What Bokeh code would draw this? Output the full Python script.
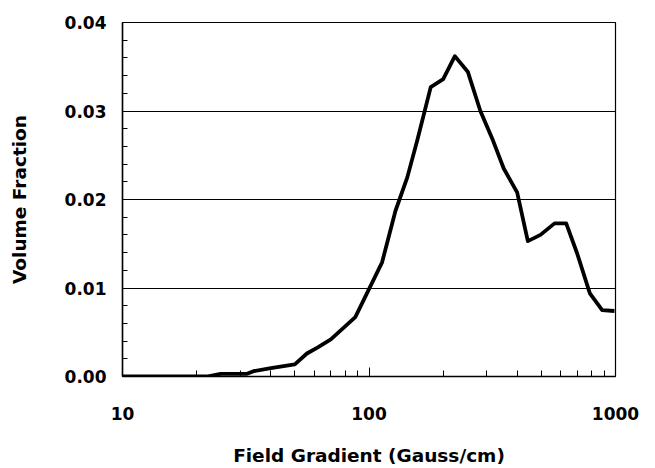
from bokeh.plotting import figure
from bokeh.models import FixedTicker, PrintfTickFormatter, CustomJSTickFormatter, Range1d
from bokeh.embed import file_html
from bokeh.resources import INLINE

# Data
gradient = [10, 22, 25, 32, 34, 40, 50, 56, 62, 70, 88, 113, 128, 143, 157, 178,
            200, 223, 252, 283, 316, 352, 399, 441, 496, 566, 631, 699, 787, 883, 990]
volume = [0.0, 0.0, 0.0003, 0.0003, 0.0006, 0.00094, 0.00136, 0.0026, 0.0033, 0.0042,
          0.0067, 0.0129, 0.0187, 0.0225, 0.0267, 0.0327, 0.0336, 0.0362, 0.0344,
          0.0300, 0.0269, 0.0235, 0.0208, 0.0153, 0.0160, 0.0173, 0.0173, 0.0139,
          0.0094, 0.0075, 0.0074]

x_major = [10, 100, 1000]
x_minor = [20, 30, 40, 50, 60, 70, 80, 90, 200, 300, 400, 500, 600, 700, 800, 900]
y_major = [0.0, 0.01, 0.02, 0.03, 0.04]
y_minor = [i * 0.002 for i in range(21)]

FONT = "DejaVu Sans"

p = figure(width=655, height=468, x_axis_type="log", output_backend="svg",
           toolbar_location=None, x_range=Range1d(10, 1000), y_range=Range1d(0, 0.04),
           min_border_left=122, min_border_right=40, min_border_top=22, min_border_bottom=92)

p.line(gradient, volume, line_color="black", line_width=3.8, line_join="round")

p.outline_line_color = "black"
p.outline_line_width = 1.2
p.xgrid.visible = False
p.ygrid.grid_line_color = "black"
p.ygrid.grid_line_width = 1
p.ygrid.ticker = FixedTicker(ticks=y_major)

xa = p.xaxis[0]
xa.ticker = FixedTicker(ticks=x_major, minor_ticks=x_minor)
xa.formatter = CustomJSTickFormatter(code="return tick.toFixed(0);")
xa.axis_label = "Field Gradient (Gauss/cm)"
xa.major_tick_in = 9
xa.major_tick_out = 0
xa.minor_tick_in = 6
xa.minor_tick_out = 0
xa.major_label_standoff = 30
xa.axis_label_standoff = 22

ya = p.yaxis[0]
ya.ticker = FixedTicker(ticks=y_major, minor_ticks=y_minor)
ya.formatter = PrintfTickFormatter(format="%.2f")
ya.axis_label = "Volume Fraction"
ya.major_tick_in = 0
ya.major_tick_out = 0
ya.minor_tick_in = 5
ya.minor_tick_out = 0
ya.major_label_standoff = 16
ya.axis_label_standoff = 32

for ax in (xa, ya):
    ax.axis_line_color = "black"
    ax.axis_line_width = 1.5
    ax.major_tick_line_color = "black"
    ax.minor_tick_line_color = "black"
    ax.major_label_text_font = FONT
    ax.major_label_text_font_style = "bold"
    ax.major_label_text_font_size = "17px"
    ax.major_label_text_color = "black"
    ax.axis_label_text_font = FONT
    ax.axis_label_text_font_style = "bold"
    ax.axis_label_text_font_size = "18.5px"
    ax.axis_label_text_color = "black"

open("out.html", "w").write(file_html(p, INLINE))
